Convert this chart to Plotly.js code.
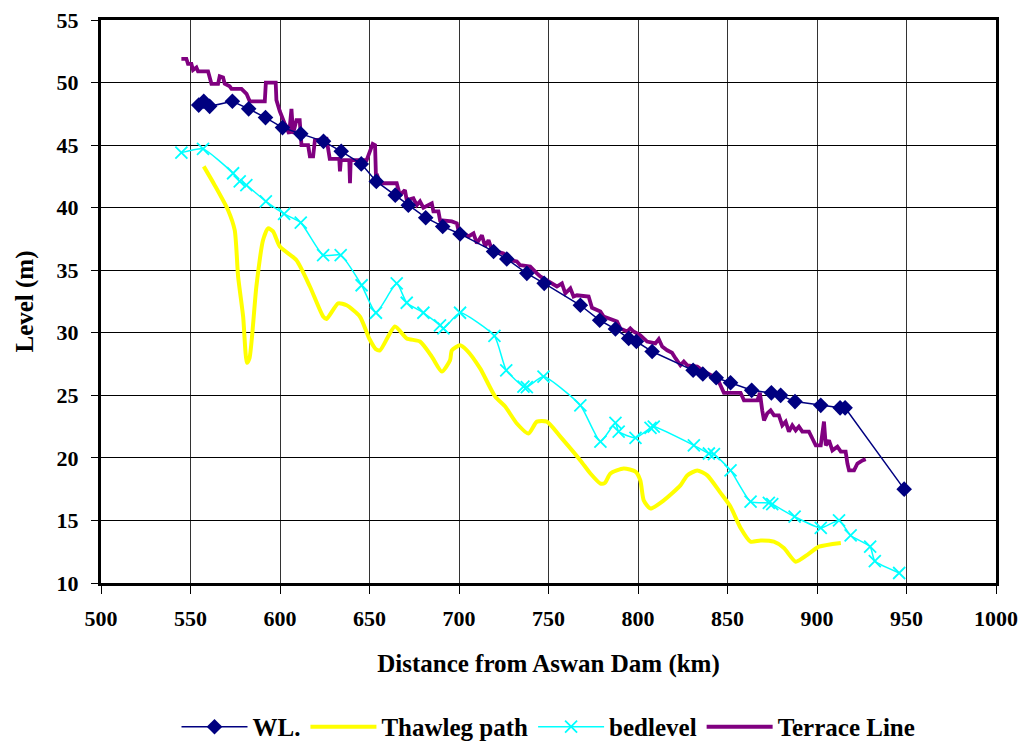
<!DOCTYPE html>
<html>
<head>
<meta charset="utf-8">
<script src="https://cdn.plot.ly/plotly-3.0.1.min.js"></script>
<style>html,body{margin:0;padding:0;background:#fff;}#chart{width:1026px;height:751px;}</style>
</head>
<body>
<div id="chart"></div>
<script>
// WL. (water level)
const wlX = [554.6,557.4,560.7,573.4,582.5,591.9,601.4,611.6,624.3,634.2,645.4,653.8,664.4,671.7,681.4,690.9,700.6,719.3,726.7,737.9,747.6,767.8,778.6,787.4,794.8,799.1,807.9,830.8,836.2,843.7,851.7,863.5,874.5,879.7,887.7,902.1,912.9,915.7,948.7];
const wlY = [48.2,48.5,48.1,48.5,47.9,47.2,46.4,45.9,45.3,44.5,43.5,42.1,41.0,40.2,39.2,38.5,37.9,36.5,35.9,34.75,33.95,32.2,31.0,30.3,29.55,29.3,28.5,27.0,26.7,26.4,26.0,25.4,25.2,25.0,24.5,24.2,24.0,24.0,17.5];

// Thawleg path
const thX = [557.4,563.5,571.0,574.7,576.6,579.4,581.5,583.0,586.8,590.5,593.3,596.1,599.9,609.2,616.7,624.1,626.0,632.5,637.2,644.6,650.0,653.5,655.9,664.2,670.8,678.2,684.8,690.4,695.0,696.0,700.6,704.4,711.8,720.2,725.8,732.3,738.8,743.5,749.1,756.6,767.8,773.4,779.0,781.5,784.6,792.0,798.6,801.3,803.2,807.0,814.4,823.7,827.5,833.1,838.7,846.1,851.7,857.3,862.9,868.5,875.9,881.5,888.1,894.6,901.1,913.3];
const thY = [43.3,41.8,39.8,38.2,34.5,31.3,27.6,28.0,33.7,37.4,38.35,38.1,36.9,35.8,33.7,31.3,31.1,32.35,32.2,31.3,29.5,28.7,28.6,30.5,29.55,29.3,28.1,26.9,27.8,28.6,29.0,28.6,27.15,24.9,24.1,22.75,21.95,22.9,22.9,21.7,19.8,18.75,17.95,18.0,18.75,19.15,18.9,18.2,16.6,15.95,16.6,17.8,18.6,19.0,18.6,17.2,16.1,14.4,13.3,13.4,13.3,12.8,11.7,12.25,12.9,13.2];

// bedlevel
const bedX = [544.9,557.0,573.8,577.5,581.2,592.1,602.3,611.6,624.1,633.9,645.6,653.6,665.2,670.8,680.1,689.4,691.3,700.6,719.8,726.4,736.0,737.9,747.2,767.8,779.0,787.4,789.2,798.6,807.0,808.8,831.2,839.6,842.4,851.7,862.9,873.1,875.0,887.5,902.1,912.3,918.8,929.7,932.3,945.9];
const bedY = [44.4,44.7,42.75,42.1,41.8,40.5,39.5,38.8,36.2,36.2,33.8,31.6,33.95,32.4,31.6,30.6,30.35,31.6,29.75,27.0,25.7,25.65,26.5,24.2,21.3,22.8,22.1,21.6,22.4,22.5,21.0,20.35,20.3,19.0,16.5,16.4,16.3,15.3,14.4,15.0,13.8,12.9,11.75,10.8];

// Terrace Line
const trX = [544.9,547.7,548.6,550.5,551.4,553.3,554.2,559.8,561.7,565.4,566.3,568.2,569.1,571.9,572.9,578.5,581.3,583.1,591.5,592.1,597.6,598.0,599.9,600.8,602.7,605.1,606.4,607.3,609.2,611.0,612.0,615.7,616.7,618.5,619.5,626.0,627.8,633.1,633.5,634.0,638.7,639.1,639.5,648.4,651.2,651.8,653.1,653.6,654.0,655.9,661.4,665.2,667.0,669.8,670.8,674.5,676.4,678.2,680.1,684.8,685.7,688.5,689.4,696.0,698.8,699.7,705.3,708.1,710.0,712.8,714.6,716.5,718.4,724.9,728.6,732.3,734.2,739.8,743.5,745.4,754.7,757.5,759.4,762.2,764.0,765.9,772.4,774.3,779.0,780.8,788.3,790.1,793.9,795.7,797.5,801.3,805.1,809.7,811.6,813.5,816.3,819.0,821.0,823.7,825.6,827.5,833.1,836.8,844.3,846.1,848.0,857.3,859.2,866.7,868.1,869.4,870.4,872.2,874.1,876.0,878.7,880.6,882.5,884.3,886.2,888.1,889.9,891.8,895.5,897.4,899.3,902.1,903.9,904.9,906.7,908.6,911.4,913.3,916.0,917.0,917.9,920.7,922.6,925.4,927.2];
const trY = [51.9,51.9,51.5,51.5,51.0,51.2,50.9,50.9,49.9,49.9,50.5,50.4,49.9,49.7,49.5,49.5,49.1,48.5,48.5,50.0,50.0,48.6,47.7,47.3,46.7,45.9,47.9,45.9,47.0,47.0,45.0,45.0,44.1,44.1,45.4,45.5,43.9,43.9,42.9,43.8,43.8,41.95,43.8,43.8,45.0,45.1,45.0,42.5,42.7,41.95,41.95,41.95,41.0,41.4,40.6,40.75,40.2,40.5,40.0,40.35,39.7,39.7,39.0,38.9,38.75,38.2,37.7,37.95,37.15,37.8,36.9,37.4,36.6,36.35,35.8,35.7,35.4,35.3,34.75,34.5,33.7,33.95,33.15,33.55,32.9,33.0,32.9,32.0,31.7,31.3,30.9,30.35,30.1,30.35,30.1,29.8,29.3,29.15,29.5,28.9,28.6,28.4,27.95,27.4,27.7,27.4,27.3,26.9,26.35,25.7,25.2,25.2,24.6,24.6,25.2,23.8,23.0,23.55,23.8,23.4,23.4,22.6,22.9,22.1,22.6,22.2,22.5,22.1,22.1,21.55,21.0,21.0,22.9,21.0,21.4,20.6,20.9,20.5,20.5,19.55,19.0,19.0,19.55,19.8,19.9];

const xTicks = [500,550,600,650,700,750,800,850,900,950,1000];
const yTicks = [10,15,20,25,30,35,40,45,50,55];

const FONT = '"Liberation Serif", "Times New Roman", serif';

const traces = [
  {name:'Thawleg path', x:thX, y:thY, mode:'lines', type:'scatter', legendrank:2,
   line:{color:'#FFFF00', width:4, shape:'spline', smoothing:0.6}},
  {name:'bedlevel', x:bedX, y:bedY, mode:'lines+markers', type:'scatter', legendrank:3,
   line:{color:'#00FFFF', width:1.5, shape:'spline', smoothing:0.5},
   marker:{symbol:'x-thin', size:12, color:'#00FFFF', line:{color:'#00FFFF', width:1.8}}},
  {name:'Terrace Line', x:trX, y:trY, mode:'lines', type:'scatter', legendrank:4,
   line:{color:'#800080', width:3.8}},
  {name:'WL.', x:wlX, y:wlY, mode:'lines+markers', type:'scatter', legendrank:1,
   line:{color:'#000080', width:1.5},
   marker:{symbol:'diamond', size:12, color:'#000080'}}
];

const layout = {
  width:1026, height:751,
  paper_bgcolor:'#ffffff', plot_bgcolor:'#ffffff',
  margin:{l:101, r:30, t:20, b:168, autoexpand:false},
  font:{family:FONT, color:'#000', size:22, weight:'bold'},
  showlegend:true,
  legend:{orientation:'h', x:0.5, xanchor:'center', y:-0.2966, yanchor:'bottom',
          font:{family:FONT, size:25, color:'#000', weight:'bold'}, traceorder:'normal',
          itemwidth:66, bgcolor:'rgba(0,0,0,0)'},
  xaxis:{range:[500,1000], tickvals:xTicks, ticktext:xTicks.map(String),
         showgrid:true, gridcolor:'#333', gridwidth:1,
         showline:true, mirror:true, linecolor:'#000', linewidth:3,
         ticks:'outside', ticklen:8, tickcolor:'#000', tickwidth:1,
         ticklabelstandoff:6,
         tickfont:{family:FONT, size:22, color:'#000', weight:'bold'},
         zeroline:false,
         title:{text:'Distance from Aswan Dam (km)', standoff:25,
                font:{family:FONT, size:25, color:'#000', weight:'bold'}}},
  yaxis:{range:[10,55], tickvals:yTicks, ticktext:yTicks.map(String),
         showgrid:true, gridcolor:'#000', gridwidth:1,
         showline:true, mirror:true, linecolor:'#000', linewidth:3,
         ticks:'outside', ticklen:7, tickcolor:'#000', tickwidth:1,
         ticklabelstandoff:8,
         tickfont:{family:FONT, size:22, color:'#000', weight:'bold'},
         zeroline:false,
         title:{text:'Level (m)', standoff:16,
                font:{family:FONT, size:25, color:'#000', weight:'bold'}}}
};

Plotly.newPlot('chart', traces, layout, {displayModeBar:false, staticPlot:true});
</script>
</body>
</html>
